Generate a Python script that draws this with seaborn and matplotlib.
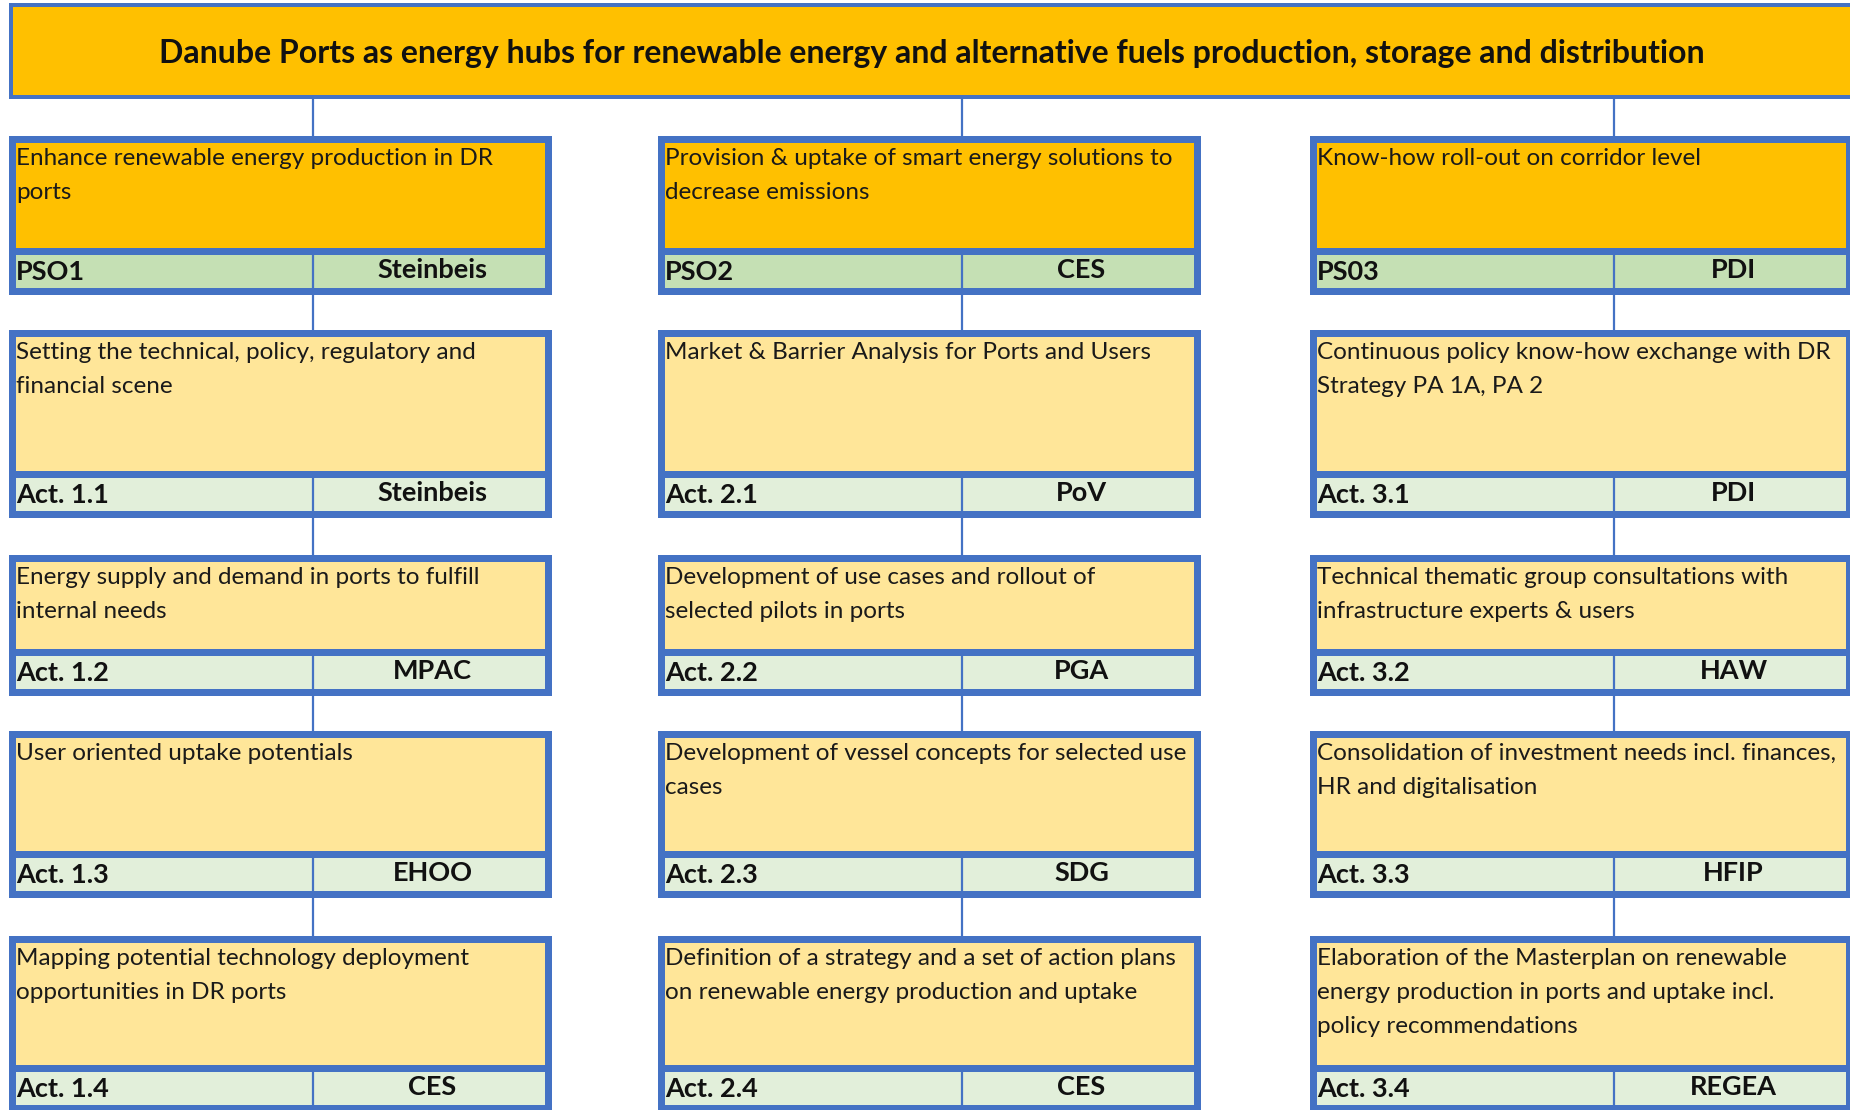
import matplotlib.pyplot as plt
import seaborn as sns
from matplotlib.patches import Rectangle

sns.set_theme(style="white")
plt.rcParams['font.family'] = ['Lato', 'DejaVu Sans']

# --- content ---
title = ("Danube Ports as energy hubs for renewable energy and alternative fuels "
         "production, storage and distribution")

col1_text = ["Enhance renewable energy production in DR\nports",
             "Setting the technical, policy, regulatory and\nfinancial scene",
             "Energy supply and demand in ports to fulfill\ninternal needs",
             "User oriented uptake potentials",
             "Mapping potential technology deployment\nopportunities in DR ports"]
col1_codes = ["PSO1", "Act. 1.1", "Act. 1.2", "Act. 1.3", "Act. 1.4"]
col1_partners = ["Steinbeis", "Steinbeis", "MPAC", "EHOO", "CES"]

col2_text = ["Provision & uptake of smart energy solutions to\ndecrease emissions",
             "Market & Barrier Analysis for Ports and Users",
             "Development of use cases and rollout of\nselected pilots in ports",
             "Development of vessel concepts for selected use\ncases",
             "Definition of a strategy and a set of action plans\non renewable energy production and uptake"]
col2_codes = ["PSO2", "Act. 2.1", "Act. 2.2", "Act. 2.3", "Act. 2.4"]
col2_partners = ["CES", "PoV", "PGA", "SDG", "CES"]

col3_text = ["Know-how roll-out on corridor level",
             "Continuous policy know-how exchange with DR\nStrategy PA 1A, PA 2",
             "Technical thematic group consultations with\ninfrastructure experts & users",
             "Consolidation of investment needs incl. finances,\nHR and digitalisation",
             "Elaboration of the Masterplan on renewable\nenergy production in ports and uptake incl.\npolicy recommendations"]
col3_codes = ["PS03", "Act. 3.1", "Act. 3.2", "Act. 3.3", "Act. 3.4"]
col3_partners = ["PDI", "PDI", "HAW", "HFIP", "REGEA"]

columns = [(col1_text, col1_codes, col1_partners),
           (col2_text, col2_codes, col2_partners),
           (col3_text, col3_codes, col3_partners)]

# --- layout (pixels) ---
W, H = 1850, 1110
col_left = [9, 658, 1310]
box_w = 543
split = 304
row_top = [136, 330, 555, 731, 936]
row_bot = [295, 518, 696, 898, 1112]
foot = 47
b = 7
line_gap = 34

blue = "#4472C4"
gold = "#FFC000"
pale_gold = "#FFE699"
green = "#C5E0B4"
pale_green = "#E2EFDA"

fig = plt.figure(figsize=(W / 100, H / 100), dpi=100)
ax = fig.add_axes([0, 0, 1, 1])
ax.set_xlim(0, W)
ax.set_ylim(H, 0)
ax.axis("off")

# header
ax.add_patch(Rectangle((9, 3), W, 96, color=blue, lw=0))
ax.add_patch(Rectangle((13, 7), W, 88, color=gold, lw=0))
ax.text(932, 63, title, ha="center", va="baseline", fontsize=23,
        fontweight="bold", color="#111111")

for c, (texts, codes, partners) in enumerate(columns):
    x0 = col_left[c]
    xd = x0 + split
    # connector from header
    ax.plot([xd, xd], [99, row_top[0]], color=blue, lw=1.6, solid_capstyle="butt")
    for r in range(len(texts)):
        top, bot = row_top[r], row_bot[r]
        body_col = gold if r == 0 else pale_gold
        foot_col = green if r == 0 else pale_green
        ax.add_patch(Rectangle((x0, top), box_w, bot - top, color=blue, lw=0))
        ax.add_patch(Rectangle((x0 + b, top + b), box_w - 2 * b,
                               bot - foot - top - b, color=body_col, lw=0))
        ax.add_patch(Rectangle((x0 + b, bot - foot + b), box_w - 2 * b,
                               foot - 2 * b, color=foot_col, lw=0))
        ax.plot([xd, xd], [bot - foot + b, bot - b], color=blue, lw=1.6,
                solid_capstyle="butt")
        for i, line in enumerate(texts[r].split("\n")):
            ax.text(x0 + b, top + 29 + i * line_gap, line, ha="left",
                    va="baseline", fontsize=17.5, color="#1a1a1a")
        ax.text(x0 + b, bot - 15, codes[r], ha="left", va="baseline",
                fontsize=19.5, fontweight="bold", color="#111111")
        ax.text(xd + (box_w - split) / 2, bot - 17, partners[r], ha="center",
                va="baseline", fontsize=19.5, fontweight="bold", color="#111111")
        if r + 1 < len(texts):
            ax.plot([xd, xd], [bot, row_top[r + 1]], color=blue, lw=1.6,
                    solid_capstyle="butt")

fig.savefig("out.png", dpi=100)
